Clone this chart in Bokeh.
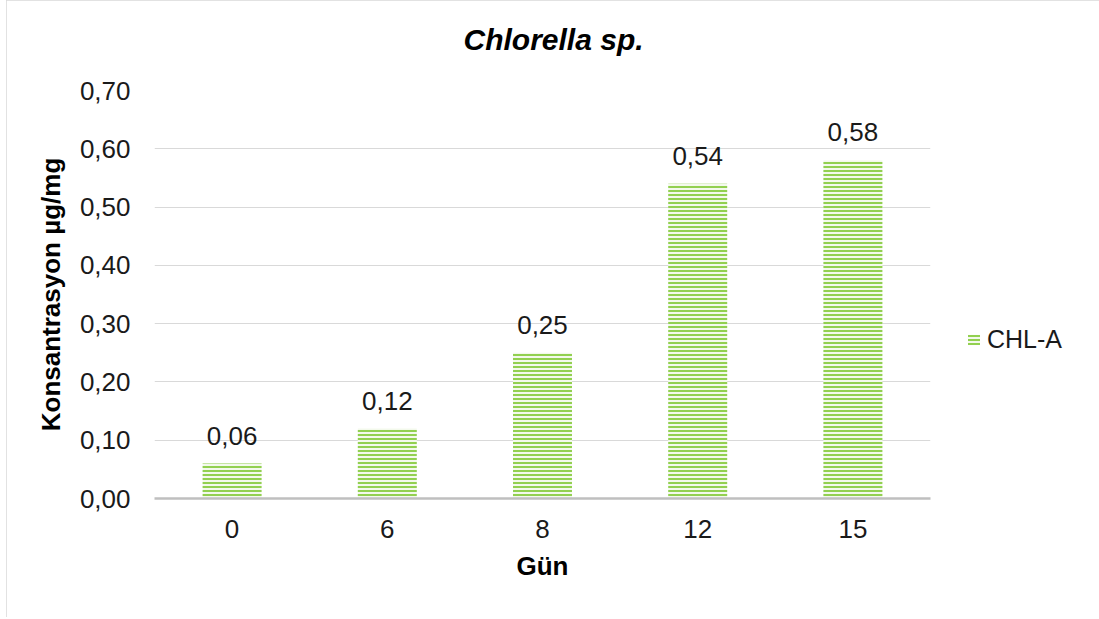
from bokeh.plotting import figure
from bokeh.models import (ColumnDataSource, Range1d, FixedTicker, CustomJSTickFormatter,
                          LabelSet, Legend, LegendItem, Title)
from bokeh.core.properties import value
from bokeh.embed import file_html
from bokeh.resources import INLINE

days = ["0", "6", "8", "12", "15"]
chl_a = [0.06, 0.12, 0.25, 0.54, 0.58]
y_ticks = [0.0, 0.1, 0.2, 0.3, 0.4, 0.5, 0.6, 0.7]
series_name = "CHL-A"
title_text = "Chlorella  sp."

FONT = "Liberation Sans"
GREEN = "#92d050"
NUM_SIZE = "26px"

xs = [i + 0.5 for i in range(len(days))]
labels_txt = [("%.2f" % v).replace(".", ",") for v in chl_a]
src = ColumnDataSource(dict(x=xs, y=chl_a, lab=labels_txt))

p = figure(frame_width=776, frame_height=408, output_backend="svg", toolbar_location=None,
           x_range=Range1d(0, len(days)), y_range=Range1d(0, 0.7),
           min_border_left=148, min_border_right=0, min_border_top=90, min_border_bottom=119)
p.outline_line_color = None
p.background_fill_color = "white"
p.border_fill_color = "white"
p.styles = {"outline": "2px solid #d9d9d9", "outline-offset": "-2px", "margin-left": "6px"}

p.title = Title(text=title_text, align="left", offset=309, standoff=4,
                text_font=FONT, text_font_size="30px", text_font_style="bold italic",
                text_color="#000000")
# blank spacer panel between the title and the plot area
p.add_layout(Title(text=" ", text_font_size="1px", standoff=30), "above")

bars = p.vbar(x="x", top="y", width=0.38, source=src, bottom=0,
              fill_color="#f3f9ec", line_color=None,
              hatch_pattern="horizontal_line", hatch_color=GREEN,
              hatch_scale=4, hatch_weight=2)

# axes
p.yaxis.ticker = FixedTicker(ticks=y_ticks)
p.yaxis.formatter = CustomJSTickFormatter(code="return tick.toFixed(2).replace('.', ',');")
p.yaxis.axis_line_color = None
p.yaxis.major_tick_line_color = None
p.yaxis.minor_tick_line_color = None
p.yaxis.major_tick_out = 0
p.yaxis.major_label_standoff = 24
p.yaxis.major_label_text_font = FONT
p.yaxis.major_label_text_font_size = NUM_SIZE
p.yaxis.major_label_text_color = "#1a1a1a"
p.yaxis.axis_label = "Konsantrasyon µg/mg"
p.yaxis.axis_label_text_font = FONT
p.yaxis.axis_label_text_font_style = "bold"
p.yaxis.axis_label_text_font_size = "26px"
p.yaxis.axis_label_text_color = "#000000"
p.yaxis.axis_label_standoff = 11

p.xaxis.ticker = FixedTicker(ticks=xs)
p.xaxis.formatter = CustomJSTickFormatter(args=dict(labels=days),
                                          code="return labels[Math.floor(tick)];")
p.xaxis.axis_line_color = "#bfbfbf"
p.xaxis.axis_line_width = 2.5
p.xaxis.major_tick_line_color = None
p.xaxis.minor_tick_line_color = None
p.xaxis.major_tick_out = 0
p.xaxis.major_label_standoff = 21
p.xaxis.major_label_text_font = FONT
p.xaxis.major_label_text_font_size = NUM_SIZE
p.xaxis.major_label_text_color = "#1a1a1a"
p.xaxis.axis_label = "Gün"
p.xaxis.axis_label_text_font = FONT
p.xaxis.axis_label_text_font_style = "bold"
p.xaxis.axis_label_text_font_size = "26px"
p.xaxis.axis_label_text_color = "#000000"
p.xaxis.axis_label_standoff = 10

p.xgrid.grid_line_color = None
p.ygrid.grid_line_color = "#d9d9d9"
p.ygrid.grid_line_width = 1

# value labels
p.add_layout(LabelSet(x="x", y="y", text="lab", source=src, text_align="center",
                      text_baseline="alphabetic", y_offset=19,
                      text_font=value(FONT), text_font_size=NUM_SIZE, text_color="#1a1a1a"))

# legend (blank title pushes the single entry below the vertical centre, as in the reference)
legend = Legend(items=[LegendItem(label=series_name, renderers=[bars])],
                location="center_left", padding=0, margin=36, spacing=0,
                title=" ", title_text_font_size="24px", title_standoff=63,
                border_line_alpha=0, background_fill_alpha=0,
                glyph_width=15, glyph_height=13, label_standoff=6,
                label_text_font=FONT, label_text_font_size="25px",
                label_text_color="#1a1a1a")
p.add_layout(legend, "right")

open("out.html", "w").write(file_html(p, INLINE))
